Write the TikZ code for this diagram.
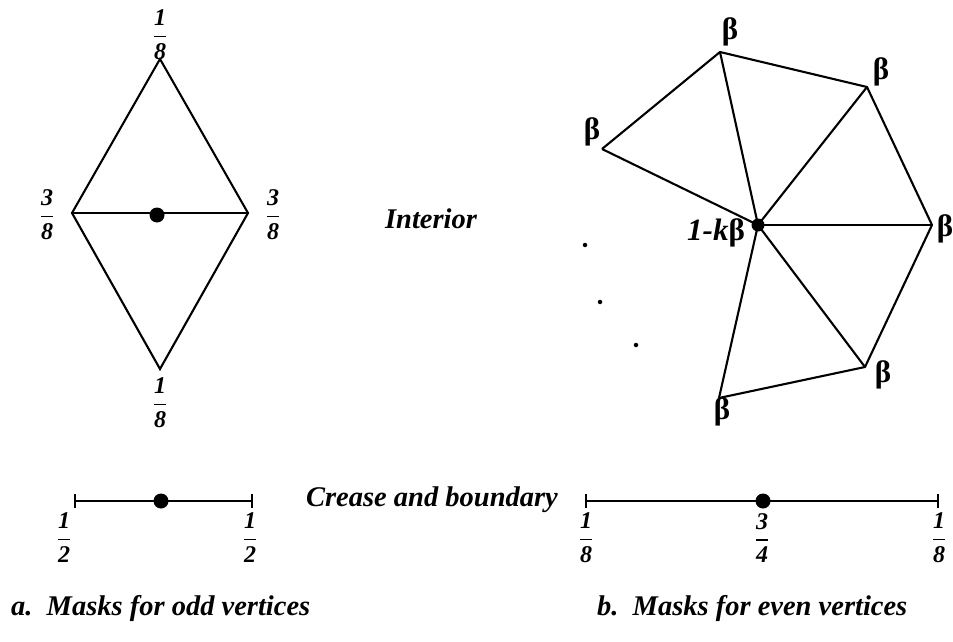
\documentclass[tikz,border=0pt]{standalone}
\usepackage{fontspec}
\setmainfont{Liberation Serif}
\newcommand\myfrac[2]{$\displaystyle{\hbox{\bfseries\itshape #1}\above1.8pt\hbox{\bfseries\itshape #2}}$}
\begin{document}
\begin{tikzpicture}[x=1pt,y=-1pt,line width=2.1pt,
  lbl/.style={font=\fontsize{28.5}{33}\selectfont\bfseries\itshape,inner sep=0pt},
  fr/.style={font=\fontsize{24}{28}\selectfont,inner sep=0pt},
  bet/.style={font=\fontsize{31}{36}\selectfont\bfseries,inner sep=0pt},
  bigdot/.style={circle,fill=black,inner sep=0pt,minimum size=15pt},
  middot/.style={circle,fill=black,inner sep=0pt,minimum size=13pt},
  smalldot/.style={circle,fill=black,inner sep=0pt,minimum size=4.5pt},
  tick/.style={line width=1.5pt}]
\useasboundingbox (0,0) rectangle (953,642);
% ---------- left diamond ----------
\coordinate (dt) at (160,59);
\coordinate (dl) at (72,213);
\coordinate (dr) at (248,213);
\coordinate (db) at (160,369);
\draw[line join=miter] (dt) -- (dr) -- (db) -- (dl) -- cycle;
\draw (dl) -- (dr);
\node[bigdot] (dc) at (157,215) {};
\node[fr] (ft) at (160,35) {\myfrac{1}{8}};
\node[fr] (fl) at (47,215) {\myfrac{3}{8}};
\node[fr] (fri) at (273,215) {\myfrac{3}{8}};
\node[fr] (fb) at (160,403) {\myfrac{1}{8}};
% ---------- right fan ----------
\coordinate (c) at (758,225);
\coordinate (vt) at (720,52);
\coordinate (vur) at (867,87);
\coordinate (vl) at (602,149);
\coordinate (vr) at (932,225);
\coordinate (vlr) at (865,367);
\coordinate (vb) at (719,398);
\draw[line join=round] (vl) -- (vt) -- (vur) -- (vr) -- (vlr) -- (vb);
\foreach \v in {vt,vur,vl,vr,vlr,vb} \draw (c) -- (\v);
\node[middot] (cd) at (c) {};
\node[bet] (bt) at (730,32) {β};
\node[bet] (bur) at (881,72) {β};
\node[bet] (bl) at (592,132) {β};
\node[bet] (br) at (945,229) {β};
\node[bet] (blr) at (883,375) {β};
\node[bet] (bb) at (722,412) {β};
\node[font=\fontsize{31}{36}\selectfont\bfseries,inner sep=0pt] (ck) at (716,233) {\textit{1-k}β};
\node[smalldot] (d1) at (585,245) {};
\node[smalldot] (d2) at (600,302) {};
\node[smalldot] (d3) at (636,345) {};
% ---------- labels ----------
\node[lbl] (int) at (431,219) {Interior};
\node[lbl] (crease) at (432,500) {Crease and boundary};
% ---------- bottom left segment ----------
\coordinate (sl1) at (75,501);
\coordinate (sl2) at (252,501);
\draw[line width=1.5pt] (sl1) -- (sl2);
\draw[tick] ([yshift=-7pt]sl1) -- ([yshift=7pt]sl1);
\draw[tick] ([yshift=-7pt]sl2) -- ([yshift=7pt]sl2);
\node[bigdot,minimum size=15pt] (sld) at (161,501) {};
\node[fr] (h1) at (64,538) {\myfrac{1}{2}};
\node[fr] (h2) at (250,538) {\myfrac{1}{2}};
% ---------- bottom right segment ----------
\coordinate (sr1) at (586,501);
\coordinate (sr2) at (938,501);
\draw[line width=1.5pt] (sr1) -- (sr2);
\draw[tick] ([yshift=-7pt]sr1) -- ([yshift=7pt]sr1);
\draw[tick] ([yshift=-7pt]sr2) -- ([yshift=7pt]sr2);
\node[bigdot,minimum size=15pt] (srd) at (763,501) {};
\node[fr] (e1) at (586,538) {\myfrac{1}{8}};
\node[fr] (e2) at (762,538) {\myfrac{3}{4}};
\node[fr] (e3) at (939,538) {\myfrac{1}{8}};
% ---------- captions ----------
\node[lbl,anchor=west] (capa) at (10,608) {a.\ \ Masks for odd vertices};
\node[lbl,anchor=west] (capb) at (596,608) {b.\ \ Masks for even vertices};
\end{tikzpicture}
\end{document}
